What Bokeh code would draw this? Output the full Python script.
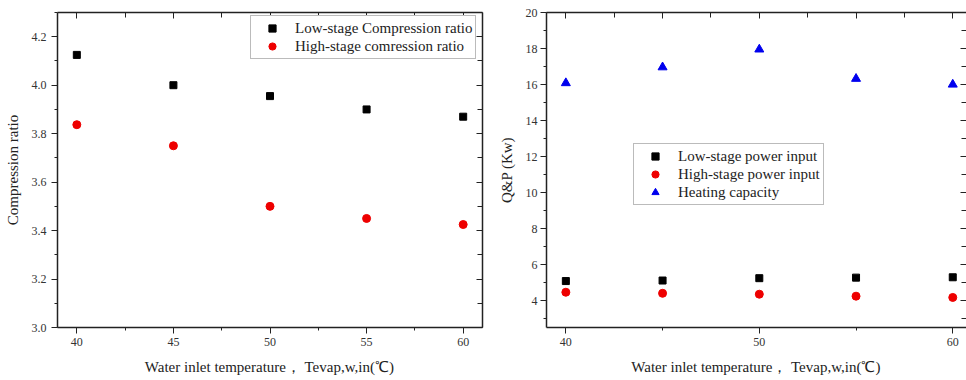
from bokeh.plotting import figure
from bokeh.layouts import row
from bokeh.models import (LinearAxis, SingleIntervalTicker, Range1d,
                          PrintfTickFormatter, CustomJSTickFormatter)
from bokeh.embed import file_html
from bokeh.resources import INLINE

# ---- data ----
temps = [40, 45, 50, 55, 60]
low_cr = [4.125, 4.0, 3.955, 3.90, 3.87]
high_cr = [3.837, 3.75, 3.50, 3.45, 3.425]
low_p = [5.08, 5.11, 5.24, 5.27, 5.29]
high_p = [4.46, 4.40, 4.35, 4.24, 4.17]
heat = [16.08, 16.96, 17.95, 16.32, 16.0]

x_title = "Water inlet temperature， Tevap,w,in(℃)"
FONT = "Liberation Serif"
AX = "#222222"
LBL = "#333333"


def style_main(ax, tick_major, tick_minor):
    ax.axis_line_color = AX
    ax.axis_line_width = 1.5
    ax.major_tick_line_color = AX
    ax.minor_tick_line_color = AX
    ax.major_tick_out = tick_major
    ax.major_tick_in = 0
    ax.minor_tick_out = tick_minor
    ax.minor_tick_in = 0
    ax.major_label_text_font = FONT
    ax.major_label_text_font_size = "12px"
    ax.major_label_text_color = LBL
    ax.axis_label_text_font = FONT
    ax.axis_label_text_font_size = "15px"
    ax.axis_label_text_font_style = "normal"
    ax.axis_label_text_color = "#222222"


def mirror(p, side, ticker, hide_line=False):
    ax = LinearAxis(ticker=ticker, formatter=CustomJSTickFormatter(code="return ''"))
    ax.axis_line_color = AX
    ax.axis_line_width = 1.5
    if hide_line:
        ax.axis_line_alpha = 0
    ax.major_tick_line_color = AX
    ax.minor_tick_line_color = AX
    ax.major_tick_in = 6
    ax.major_tick_out = 0
    ax.minor_tick_in = 5
    ax.minor_tick_out = 0
    ax.major_label_standoff = 0
    p.add_layout(ax, side)


def style_legend(p, loc):
    lg = p.legend[0]
    lg.location = loc
    lg.label_text_font = FONT
    lg.label_text_font_size = "15px"
    lg.label_text_color = "#222222"
    lg.border_line_color = "#777777"
    lg.border_line_width = 1
    lg.background_fill_color = "white"
    lg.background_fill_alpha = 1
    lg.padding = 3
    lg.spacing = 0
    lg.margin = 0
    lg.glyph_height = 18
    lg.label_height = 18
    lg.glyph_width = 36
    lg.label_standoff = 5


# ---- left figure ----
p1 = figure(width=493, height=380, output_backend="svg", toolbar_location=None,
            x_range=Range1d(39, 61), y_range=Range1d(3.0, 4.3),
            min_border_left=57, min_border_right=11, min_border_top=12, min_border_bottom=52)
p1.outline_line_color = None
p1.grid.visible = False
p1.xaxis.ticker = SingleIntervalTicker(interval=5, num_minor_ticks=2)
p1.yaxis.ticker = SingleIntervalTicker(interval=0.2, num_minor_ticks=2)
p1.yaxis.formatter = PrintfTickFormatter(format="%.1f")
style_main(p1.xaxis[0], 6, 3)
style_main(p1.yaxis[0], 6, 3)
p1.xaxis.axis_label = x_title
p1.yaxis.axis_label = "Compression ratio"
p1.xaxis.major_label_standoff = 4
p1.xaxis.axis_label_standoff = 10
p1.yaxis.major_label_standoff = 5
p1.yaxis.axis_label_standoff = 8
mirror(p1, "above", SingleIntervalTicker(interval=5, num_minor_ticks=2))
mirror(p1, "right", SingleIntervalTicker(interval=0.2, num_minor_ticks=2))

p1.scatter(temps, low_cr, marker="square", size=7, color="black",
           legend_label="Low-stage Compression ratio")
p1.scatter(temps, high_cr, marker="circle", size=8, color="#ee0000",
           legend_label="High-stage comression ratio")
style_legend(p1, (193, 268))

# ---- right figure ----
p2 = figure(width=473, height=380, output_backend="svg", toolbar_location=None,
            x_range=Range1d(39, 60.71), y_range=Range1d(2.5, 20),
            min_border_left=53, min_border_right=0, min_border_top=9, min_border_bottom=53)
p2.outline_line_color = None
p2.grid.visible = False
p2.xaxis.ticker = SingleIntervalTicker(interval=10, num_minor_ticks=2)
p2.yaxis.ticker = SingleIntervalTicker(interval=2, num_minor_ticks=2)
style_main(p2.xaxis[0], 6, 3)
style_main(p2.yaxis[0], 6, 3)
p2.xaxis.axis_label = x_title
p2.yaxis.axis_label = "Q&P (Kw)"
p2.xaxis.major_label_standoff = 4
p2.xaxis.axis_label_standoff = 10
p2.yaxis.major_label_standoff = 3
p2.yaxis.axis_label_standoff = 8
mirror(p2, "above", SingleIntervalTicker(interval=5, num_minor_ticks=2))
mirror(p2, "right", SingleIntervalTicker(interval=2, num_minor_ticks=2), hide_line=True)

p2.scatter(temps, low_p, marker="square", size=7, color="black",
           legend_label="Low-stage power input")
p2.scatter(temps, high_p, marker="circle", size=8, color="#ee0000",
           legend_label="High-stage power input")
p2.scatter(temps, heat, marker="triangle", size=9, color="#0000ee",
           legend_label="Heating capacity")
style_legend(p2, (87, 122))

layout = row(p1, p2)
open("out.html", "w").write(file_html(layout, INLINE))
